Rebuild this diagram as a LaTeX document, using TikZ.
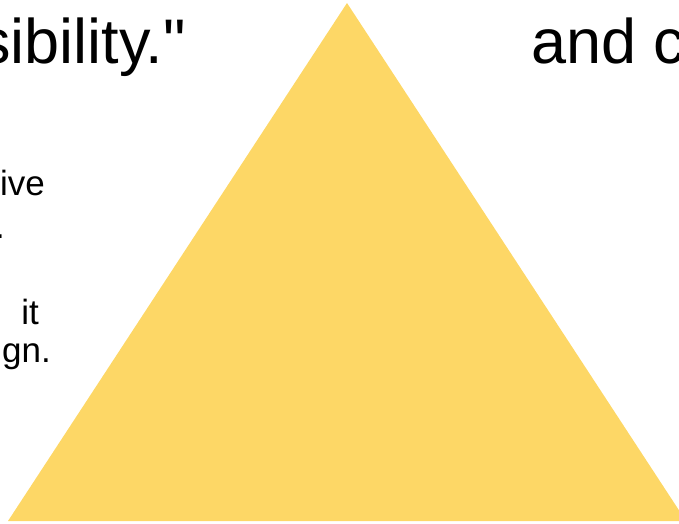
\documentclass[tikz,border=0pt]{standalone}
\usepackage{fontspec}
\setmainfont{Liberation Sans}[Ligatures=TeXOff]
\definecolor{triyellow}{HTML}{FDD766}
\begin{document}
\begin{tikzpicture}[x=1pt,y=-1pt,
  bigtext/.style={font=\fontsize{63}{70}\selectfont, inner sep=0pt, text=black},
  smalltext/.style={font=\fontsize{35}{40}\selectfont, inner sep=0pt, text=black}]
\useasboundingbox (0,0) rectangle (679,523);
\fill[triyellow] (347,3) -- (686,521) -- (8,521) -- cycle;
\node[bigtext, anchor=base east] (t1) at (186,63) {sibility."};
\node[bigtext, anchor=base west] (t2) at (531,63) {and c};
\node[smalltext, anchor=base east] (l1) at (45,195) {ive};
\node[smalltext, anchor=base east] (l2) at (5,238) {.};
\node[smalltext, anchor=base east] (l3) at (39,324) {it};
\node[smalltext, anchor=base east] (l4) at (51,362) {gn.};
\end{tikzpicture}
\end{document}
